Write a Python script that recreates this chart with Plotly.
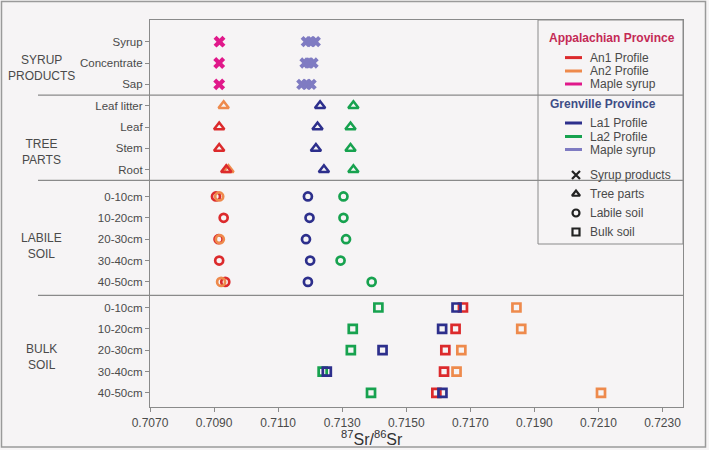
import plotly.graph_objects as go

W, H = 709, 450

# ---------------- data ----------------
syrup_rows = ["Syrup", "Concentrate", "Sap"]
tree_rows = ["Leaf litter", "Leaf", "Stem", "Root"]
depth_rows = ["0-10cm", "10-20cm", "20-30cm", "30-40cm", "40-50cm"]
group_labels = [["SYRUP", "PRODUCTS"], ["TREE", "PARTS"], ["LABILE", "SOIL"], ["BULK", "SOIL"]]
x_ticks = [0.7070, 0.7090, 0.7110, 0.7130, 0.7150, 0.7170, 0.7190, 0.7210, 0.7230]

# Syrup products (maple syrup, Appalachian vs Grenville)
app_syrup = [0.70917, 0.70916, 0.70916]
gren_syrup_1 = [0.71188, 0.71184, 0.71174]
gren_syrup_2 = [0.71202, 0.71196, 0.71189]
gren_syrup_3 = [0.71216, 0.71209, 0.71203]

# Tree parts
an1_tree = [None, 0.70916, 0.70916, 0.70938]
an2_tree = [0.70930, None, None, 0.70945]
la1_tree = [0.71231, 0.71223, 0.71218, 0.71243]
la2_tree = [0.71335, 0.71326, 0.71326, 0.71335]

# Labile soil
an1_lab = [0.70906, 0.70930, 0.70914, 0.70916, 0.70935]
an2_lab = [0.70916, None, 0.70918, None, 0.70922]
la1_lab = [0.71193, 0.71198, 0.71187, 0.71200, 0.71193]
la2_lab = [0.71304, 0.71304, 0.71312, 0.71295, 0.71392]

# Bulk soil
an1_bulk = [0.71677, 0.71654, 0.71622, 0.71618, 0.71594]
an2_bulk = [0.71844, 0.71859, 0.71672, 0.71657, 0.72108]
la1_bulk = [0.71657, 0.71612, 0.71426, 0.71252, 0.71613]
la2_bulk = [0.71413, 0.71333, 0.71327, 0.71239, 0.71390]

# ---------------- styles ----------------
C_AN1 = "#dc2a2c"
C_AN2 = "#ee8a4c"
C_APP_SYR = "#e0188a"
C_LA1 = "#2d2f8c"
C_LA2 = "#17a24f"
C_GRE_SYR = "#7f7bc2"
BG = "#f6f4f5"
TXT = "#4a4a4a"
FRAME = "#8a8a8a"
FONT = "Arial, Liberation Sans, sans-serif"

# row layout (extra spacing between groups)
groups = [syrup_rows, tree_rows, depth_rows, depth_rows]
group_extra = [0.0, 0.0, 0.25, 0.45]
group_pos = []
idx = 0
for g, extra in zip(groups, group_extra):
    group_pos.append([idx + k + extra for k in range(len(g))])
    idx += len(g)
separators = [2.5, 6.5, 11.88]
Y_TOP, Y_BOT = -1.015, 17.11


def px(x):
    return x / W


def py(y):
    return 1 - y / H


fig = go.Figure()


def add(xs, ys, color, symbol, size, lw):
    pts = [(x, y) for x, y in zip(xs, ys) if x is not None]
    fig.add_trace(go.Scatter(
        x=[p[0] for p in pts], y=[p[1] for p in pts], mode="markers",
        marker=dict(symbol=symbol, size=size, color=color,
                    line=dict(width=lw, color=color)),
        showlegend=False, hoverinfo="x+y"))


# syrup products
for arr in (gren_syrup_1, gren_syrup_2, gren_syrup_3):
    add(arr, group_pos[0], C_GRE_SYR, "x", 10, 0)
add(app_syrup, group_pos[0], C_APP_SYR, "x", 10.5, 0)

# tree parts
TRI = dict(symbol="triangle-up-open", size=9, lw=2.5)
add(la2_tree, group_pos[1], C_LA2, TRI["symbol"], TRI["size"], TRI["lw"])
add(la1_tree, group_pos[1], C_LA1, TRI["symbol"], TRI["size"], TRI["lw"])
add(an2_tree, group_pos[1], C_AN2, TRI["symbol"], TRI["size"], TRI["lw"])
add(an1_tree, group_pos[1], C_AN1, TRI["symbol"], TRI["size"], TRI["lw"])

# labile soil
add(la2_lab, group_pos[2], C_LA2, "circle-open", 8, 2.7)
add(la1_lab, group_pos[2], C_LA1, "circle-open", 8, 2.7)
add(an1_lab, group_pos[2], C_AN1, "circle-open", 8, 2.7)
add(an2_lab, group_pos[2], C_AN2, "circle-open", 8, 2.7)

# bulk soil
add(la2_bulk, group_pos[3], C_LA2, "square-open", 8, 2.7)
add(an1_bulk, group_pos[3], C_AN1, "square-open", 8, 2.7)
add(la1_bulk, group_pos[3], C_LA1, "square-open", 8, 2.7)
add(an2_bulk, group_pos[3], C_AN2, "square-open", 8, 2.7)

# ---------------- legend (manual) ----------------
shapes = []
annotations = []

leg_lines = [
    (57.6, C_AN1, "An1 Profile"),
    (71.0, C_AN2, "An2 Profile"),
    (84.0, C_APP_SYR, "Maple syrup"),
    (123.0, C_LA1, "La1 Profile"),
    (136.5, C_LA2, "La2 Profile"),
    (149.5, C_GRE_SYR, "Maple syrup"),
]
for yy, col, label in leg_lines:
    shapes.append(dict(type="line", xref="paper", yref="paper",
                       x0=px(565), x1=px(582), y0=py(yy), y1=py(yy),
                       line=dict(color=col, width=3)))
    annotations.append(dict(x=px(588), y=py(yy), xref="paper", yref="paper",
                            text=label, showarrow=False, xanchor="left", yanchor="middle",
                            font=dict(family=FONT, size=12, color=TXT)))

annotations.append(dict(x=px(612), y=py(37.5), xref="paper", yref="paper",
                        text="<b>Appalachian Province</b>", showarrow=False,
                        xanchor="center", yanchor="middle",
                        font=dict(family=FONT, size=12, color="#c42a55")))
annotations.append(dict(x=px(603), y=py(104), xref="paper", yref="paper",
                        text="<b>Grenville Province</b>", showarrow=False,
                        xanchor="center", yanchor="middle",
                        font=dict(family=FONT, size=12, color="#3e4d86")))

leg_syms = [
    (175, "x-thin-open", 8, "Syrup products"),
    (194, "triangle-up-open", 7, "Tree parts"),
    (213, "circle-open", 7, "Labile soil"),
    (232, "square-open", 7, "Bulk soil"),
]
for yy, sym, sz, label in leg_syms:
    fig.add_trace(go.Scatter(
        x=[576], y=[yy], xaxis="x2", yaxis="y2", mode="markers",
        marker=dict(symbol=sym, size=sz, color="#222222", line=dict(width=2.2, color="#222222")),
        showlegend=False, hoverinfo="skip"))
    annotations.append(dict(x=px(588), y=py(yy), xref="paper", yref="paper",
                            text=label, showarrow=False, xanchor="left", yanchor="middle",
                            font=dict(family=FONT, size=12, color=TXT)))

# legend box
shapes.append(dict(type="rect", xref="paper", yref="paper",
                   x0=px(538), x1=px(683), y0=py(244), y1=py(20),
                   line=dict(color=FRAME, width=1), fillcolor="rgba(0,0,0,0)"))

# group separators
for s in separators:
    shapes.append(dict(type="line", xref="paper", yref="y",
                       x0=px(38), x1=px(683), y0=s, y1=s,
                       line=dict(color=FRAME, width=1.2)))

# outer border
shapes.append(dict(type="rect", xref="paper", yref="paper",
                   x0=px(1.5), x1=px(705.5), y0=py(447), y1=py(1.5),
                   line=dict(color="#9a9a9a", width=1.5), fillcolor="rgba(0,0,0,0)"))

# group labels
group_label_y = [68.3, 152.0, 246.0, 356.5]
for lines, yc in zip(group_labels, group_label_y):
    annotations.append(dict(x=px(41), y=py(yc), xref="paper", yref="paper",
                            text="<br>".join(lines), showarrow=False,
                            xanchor="center", yanchor="middle", align="center",
                            font=dict(family=FONT, size=12, color=TXT)))

# x-axis title
annotations.append(dict(x=px(372), y=py(438), xref="paper", yref="paper",
                        text="<sup>87</sup>Sr/<sup>86</sup>Sr", showarrow=False,
                        xanchor="center", yanchor="middle",
                        font=dict(family=FONT, size=16, color="#333333")))

tickvals_y = [p for gp in group_pos for p in gp]
ticktext_y = [lab for g in groups for lab in g]

fig.update_layout(
    width=W, height=H,
    margin=dict(l=0, r=0, t=0, b=0, autoexpand=False),
    paper_bgcolor=BG, plot_bgcolor="rgba(0,0,0,0)",
    showlegend=False,
    shapes=shapes, annotations=annotations,
    xaxis=dict(domain=[px(150), px(683)], range=[0.7070, 0.72364],
               tickvals=x_ticks, ticktext=[f"{v:.4f}" for v in x_ticks],
               ticks="outside", ticklen=4, tickcolor=FRAME,
               showline=True, linecolor=FRAME, linewidth=1.2, mirror=True,
               showgrid=False, zeroline=False, automargin=False,
               tickfont=dict(family=FONT, size=12, color=TXT)),
    yaxis=dict(domain=[py(407), py(20)], range=[Y_BOT, Y_TOP],
               tickvals=tickvals_y, ticktext=ticktext_y,
               ticks="outside", ticklen=4, tickcolor=FRAME,
               showline=True, linecolor=FRAME, linewidth=1.2, mirror=True,
               showgrid=False, zeroline=False, automargin=False,
               tickfont=dict(family=FONT, size=11.5, color=TXT)),
    xaxis2=dict(domain=[0, 1], range=[0, W], visible=False, anchor="y2",
                fixedrange=True, automargin=False),
    yaxis2=dict(domain=[0, 1], range=[H, 0], visible=False, anchor="x2",
                fixedrange=True, automargin=False),
)

fig.write_html("out.html")
